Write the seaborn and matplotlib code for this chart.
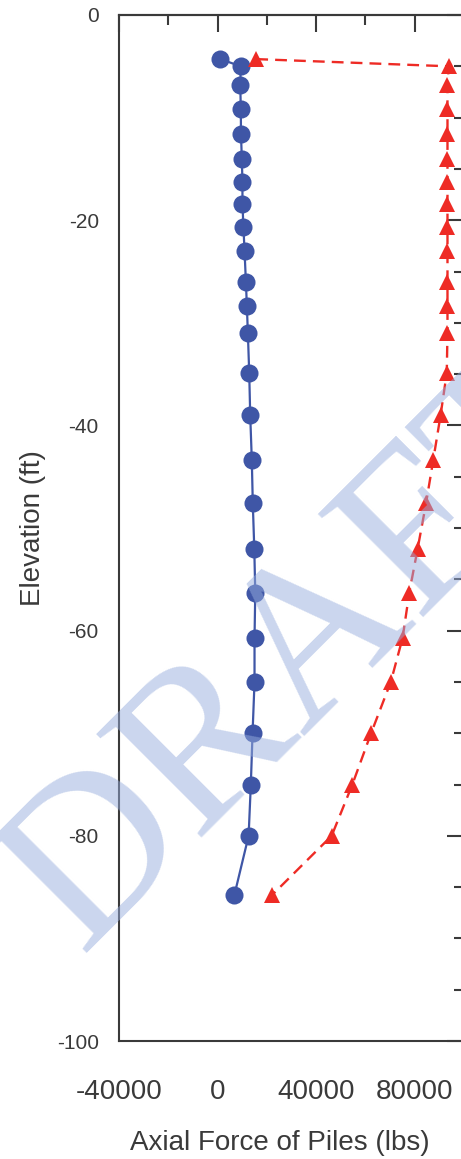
import matplotlib
matplotlib.use("Agg")
import matplotlib.pyplot as plt
from matplotlib.ticker import MultipleLocator, FixedLocator
import pandas as pd
import seaborn as sns

# Elevation of each pile node (ft)
elevation = [-4.3, -5.0, -6.8, -9.2, -11.6, -14.0, -16.3, -18.4, -20.7, -23.0,
             -26.0, -28.4, -31.0, -34.9, -39.0, -43.4, -47.6, -52.0, -56.3,
             -60.7, -65.0, -70.0, -75.0, -80.0, -85.8]

# Axial force along the pile (lbs)
force_a = [1100, 9450, 9200, 9450, 9500, 9850, 10100, 10100, 10500, 10950,
           11500, 11900, 12300, 12850, 13250, 13900, 14300, 14900, 15300,
           15000, 15000, 14200, 13500, 12600, 6800]
force_b = [15700, 93800, 93300, 93300, 93300, 93300, 93300, 93300, 93300, 93300,
           93300, 93300, 93300, 93000, 90500, 87500, 84600, 81200, 77800,
           75100, 70300, 62300, 54700, 46300, 22000]

x_major = [-40000, 0, 40000, 80000]
x_minor = [-20000, 20000, 60000]
x_labels = ["-40000", "0", "40000", "80000"]

sns.set_style("white")
plt.rcParams["font.family"] = ["Liberation Sans", "DejaVu Sans"]
plt.rcParams["axes.unicode_minus"] = False

BLUE = "#3f56a6"
RED = "#ee2b25"
INK = "#3a3a3a"

df_a = pd.DataFrame({"force": force_a, "elev": elevation})
df_b = pd.DataFrame({"force": force_b, "elev": elevation})

fig = plt.figure(figsize=(4.61, 11.59), dpi=100)
ax = fig.add_axes([0.2581, 0.1018, 1.0065 - 0.2581, 0.98706 - 0.1018])

sns.lineplot(data=df_a, x="force", y="elev", sort=False, estimator=None,
             color=BLUE, linewidth=1.6, marker="o", markersize=13,
             markeredgewidth=0, ax=ax)
sns.lineplot(data=df_b, x="force", y="elev", sort=False, estimator=None,
             color=RED, linewidth=1.7, dashes=False, marker="^", markersize=11,
             markeredgewidth=0, ax=ax)
ax.lines[-1].set_dashes((5, 3))

ax.set_xlim(-40000, 100000)
ax.set_ylim(-100, 0)

ax.xaxis.set_major_locator(FixedLocator(x_major))
ax.xaxis.set_minor_locator(FixedLocator(x_minor))
ax.set_xticklabels(x_labels)
ax.yaxis.set_major_locator(MultipleLocator(20))
ax.yaxis.set_minor_locator(MultipleLocator(5))

for side in ax.spines.values():
    side.set_color(INK)
    side.set_linewidth(1.5)

ax.tick_params(axis="both", which="both", direction="out", color=INK,
               width=1.5, labelcolor=INK)
ax.tick_params(axis="both", which="major", length=11.5)
ax.tick_params(axis="both", which="minor", length=7)
ax.tick_params(axis="x", which="major", labelsize=20, pad=16)
ax.tick_params(axis="y", which="major", labelsize=15, pad=3)

# Mirrored inward ticks on the top and right frame
top = ax.secondary_xaxis("top")
top.xaxis.set_major_locator(FixedLocator(x_major))
top.xaxis.set_minor_locator(FixedLocator(x_minor))
top.tick_params(which="both", direction="in", color=INK, width=1.5,
                labeltop=False)
top.tick_params(which="major", length=12)
top.tick_params(which="minor", length=7)
top.spines["top"].set_color(INK)
top.spines["top"].set_linewidth(1.5)

right = ax.secondary_yaxis("right")
right.yaxis.set_major_locator(MultipleLocator(20))
right.yaxis.set_minor_locator(MultipleLocator(5))
right.tick_params(which="both", direction="in", color=INK, width=1.5,
                  labelright=False)
right.tick_params(which="major", length=12)
right.tick_params(which="minor", length=7)
right.spines["right"].set_color(INK)
right.spines["right"].set_linewidth(1.5)

ax.set_xlabel("Axial Force of Piles (lbs)", fontsize=20, color=INK)
ax.set_ylabel("Elevation (ft)", fontsize=20, color=INK)
ax.xaxis.set_label_coords(0.467, -0.087)
ax.yaxis.set_label_coords(-0.212, 0.5)

# Diagonal watermark laid over the plot
fig.text(80 / 461, 1 - 953 / 1159, "DRAFT", family="Liberation Serif",
         fontsize=162, color="#97addd", alpha=0.5, rotation=45,
         rotation_mode="anchor", ha="left", va="baseline", zorder=10)

fig.savefig("out.png", dpi=100)
